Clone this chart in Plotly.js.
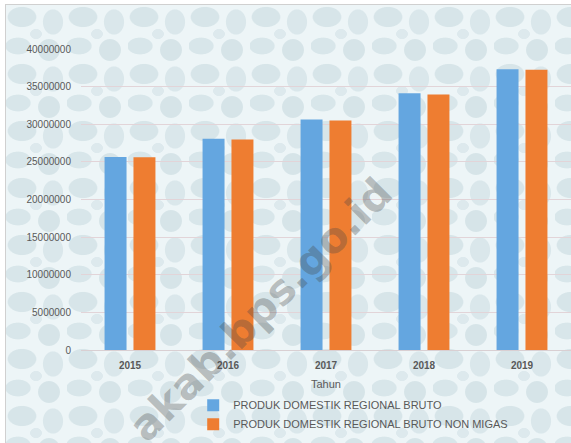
<!DOCTYPE html>
<html>
<head>
<meta charset="utf-8">
<script src="https://cdn.plot.ly/plotly-3.0.1.min.js"></script>
<style>
  html, body { margin:0; padding:0; width:571px; height:443px; overflow:hidden; background:#ffffff; }
  #bg { position:absolute; left:5px; top:4px; width:570px; height:445px; border:1px solid #d0d0d0;
        background-color:#edf5f7;
        background-image:
          radial-gradient(ellipse 17px 12px at 16px 12px, #d7e5e9 80%, transparent 88%),
          radial-gradient(ellipse 12px 15px at 47px 17px, #dae7eb 80%, transparent 88%),
          radial-gradient(ellipse 15px 10px at 12px 41px, #d8e6ea 80%, transparent 88%),
          radial-gradient(ellipse 13px 13px at 43px 45px, #d6e4e8 80%, transparent 88%),
          radial-gradient(ellipse 7px 6px at 30px 29px, #dde9ed 80%, transparent 88%);
        background-size: 61px 57px; }
  #chart { position:absolute; left:0; top:0; width:571px; height:443px; }
</style>
</head>
<body>
<div id="bg"></div>
<div id="chart"></div>
<script>
const years = ['2015', '2016', '2017', '2018', '2019'];
const pdrb = [25660000, 28060000, 30630000, 34130000, 37320000];
const pdrbNonMigas = [25620000, 27970000, 30500000, 33950000, 37230000];
const seriesNames = ['PRODUK DOMESTIK REGIONAL BRUTO', 'PRODUK DOMESTIK REGIONAL BRUTO NON MIGAS'];
const yTicks = [0, 5000000, 10000000, 15000000, 20000000, 25000000, 30000000, 35000000, 40000000];

const traces = [
  { type:'bar', x:years, y:pdrb, name:seriesNames[0], marker:{color:'#64a6e0'}, hoverinfo:'none' },
  { type:'bar', x:years, y:pdrbNonMigas, name:seriesNames[1], marker:{color:'#ee7d31'}, hoverinfo:'none' }
];

const layout = {
  width:571, height:443,
  margin:{l:81, r:0, t:49, b:93},
  paper_bgcolor:'rgba(0,0,0,0)', plot_bgcolor:'rgba(0,0,0,0)',
  font:{family:'"Liberation Sans", Arial, sans-serif', color:'#595959', size:10},
  barmode:'group', bargap:0.41, bargroupgap:0.24,
  showlegend:true,
  legend:{x:0.229, y:-0.135, xanchor:'left', yanchor:'top', orientation:'v',
          font:{size:11, color:'#595959'}, bgcolor:'rgba(0,0,0,0)', itemwidth:30, tracegroupgap:0},
  xaxis:{type:'category', tickfont:{size:10, color:'#595959', weight:'bold'},
         showgrid:false, showline:true, linecolor:'#d9cfd2', linewidth:1, zeroline:false,
         ticks:'', ticklabelstandoff:6,
         title:{text:'Tahun', font:{size:11, color:'#595959'}, standoff:10}},
  yaxis:{range:[0, 40000000], tickvals:yTicks, ticktext:yTicks.map(String),
         tickfont:{size:10, color:'#595959'},
         showgrid:true, gridcolor:'#e2d4d8', gridwidth:1, zeroline:false,
         showline:false, ticks:'', ticklabelstandoff:9},
  annotations:[{text:'akab.bps.go.id', xref:'paper', yref:'paper', x:0.367, y:0.135,
                xanchor:'center', yanchor:'middle',
                showarrow:false, textangle:-45,
                font:{size:42, color:'rgba(70,70,70,0.33)', family:'"DejaVu Sans", sans-serif', weight:'bold'}}]
};

Plotly.newPlot('chart', traces, layout, {displayModeBar:false, staticPlot:true});
</script>
</body>
</html>
